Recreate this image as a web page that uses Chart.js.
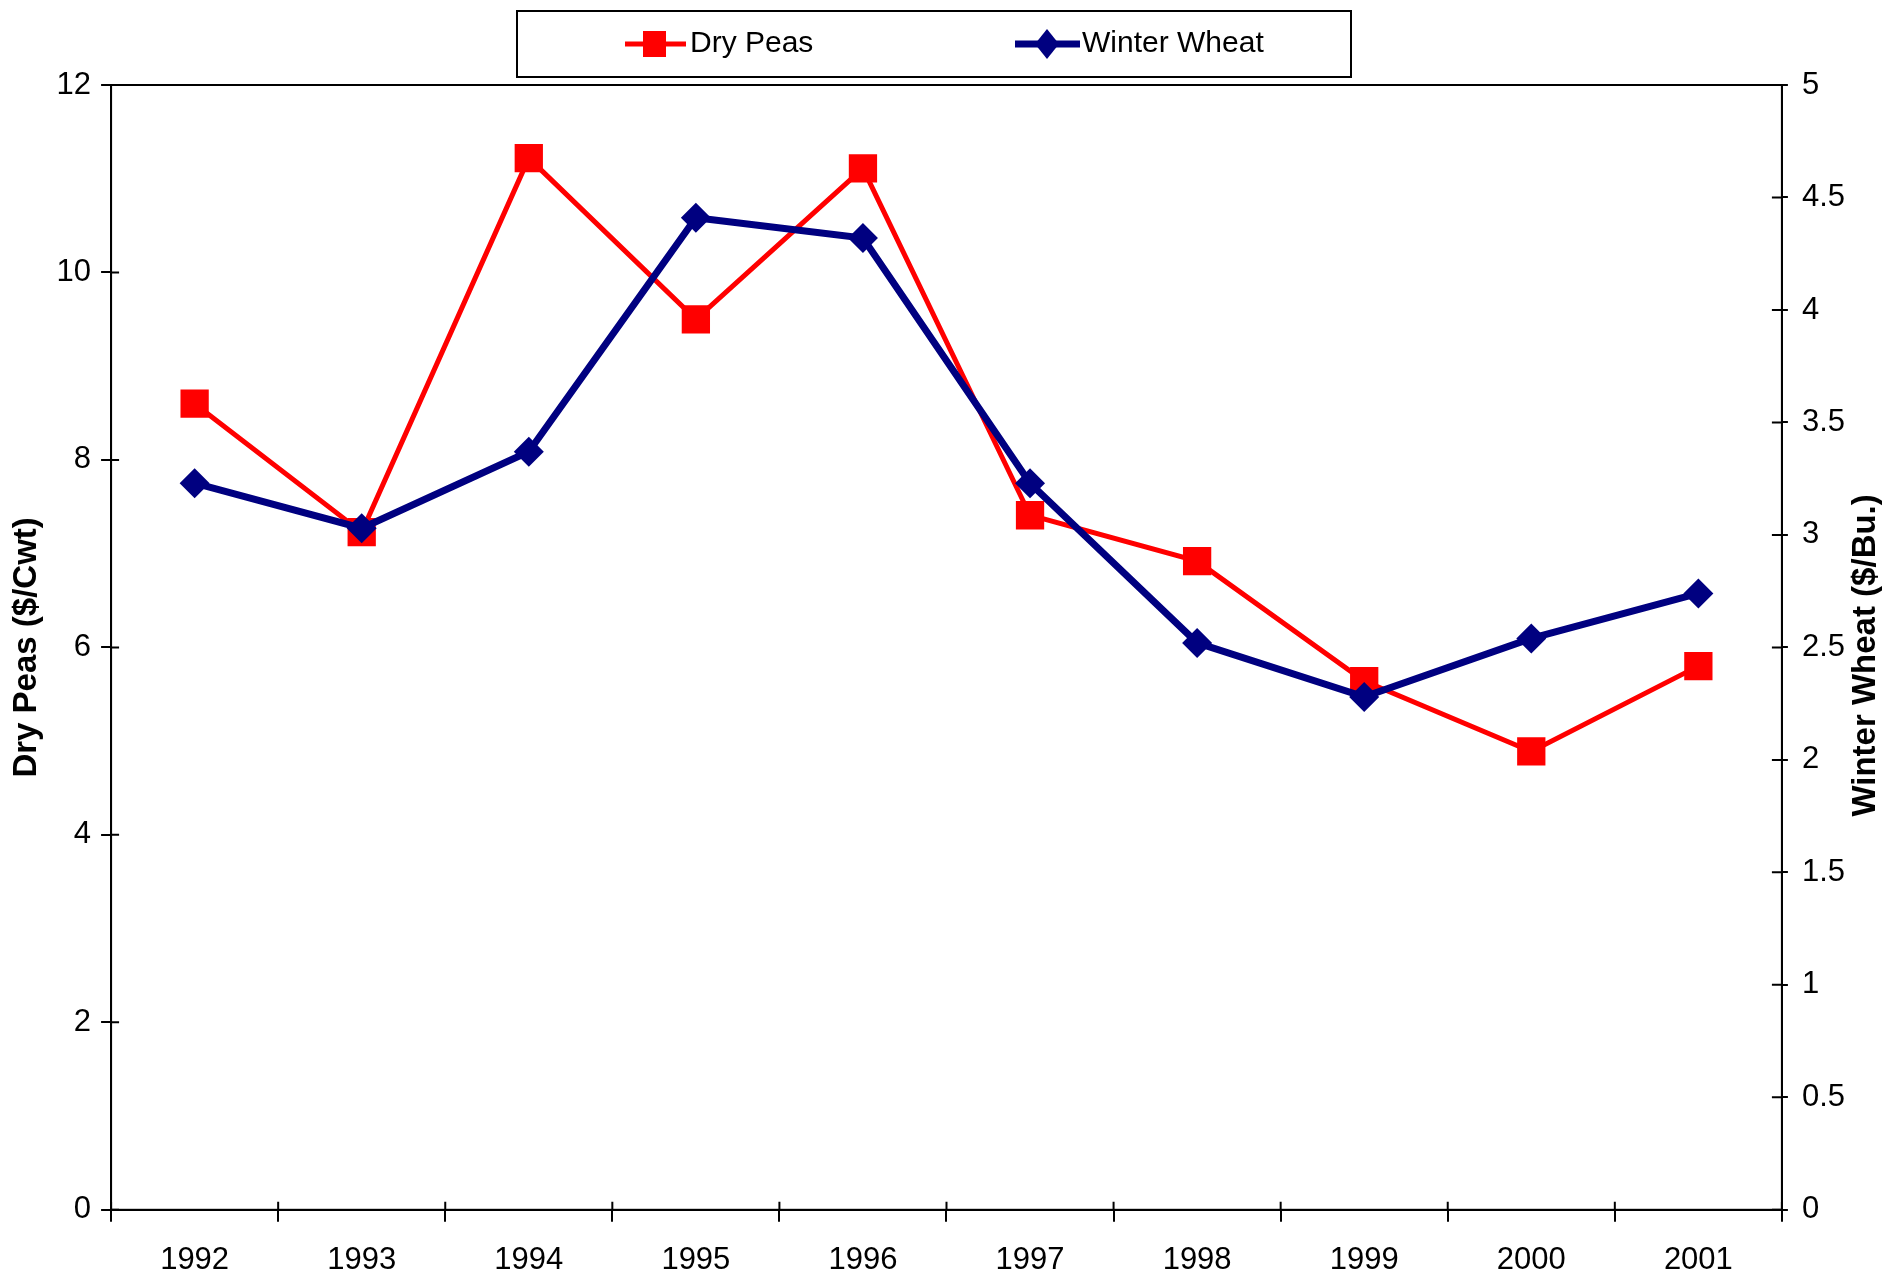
<!DOCTYPE html>
<html>
<head>
<meta charset="utf-8">
<script src="https://cdn.jsdelivr.net/npm/chart.js@4/dist/chart.umd.min.js"></script>
<style>
  html, body { margin: 0; padding: 0; background: #fff; }
  #grafico { display: block; }
</style>
</head>
<body>
<canvas id="grafico" width="1882" height="1276"></canvas>
<script>
const years = ["1992", "1993", "1994", "1995", "1996", "1997", "1998", "1999", "2000", "2001"];
const dryPeas = [8.6, 7.23, 11.22, 9.5, 11.11, 7.41, 6.92, 5.64, 4.89, 5.8];
const winterWheat = [3.23, 3.03, 3.37, 4.41, 4.32, 3.23, 2.52, 2.28, 2.54, 2.74];
const peasTicks = [0, 2, 4, 6, 8, 10, 12];
const wheatTicks = [0, 0.5, 1, 1.5, 2, 2.5, 3, 3.5, 4, 4.5, 5];

const RED = "#FF0000";
const NAVY = "#000080";
const tickFont = { family: "'Liberation Sans Narrow', 'Liberation Sans', Arial, sans-serif", size: 31 };

// caja del area de trazado, marcas internas, leyenda y titulo derecho
const extras = {
  id: "extras",
  afterDraw(chart) {
    const ctx = chart.ctx;
    const a = chart.chartArea;
    const xs = chart.scales.x;
    const yl = chart.scales.y;
    const yr = chart.scales.y1;
    ctx.save();
    ctx.strokeStyle = "#000";
    ctx.lineWidth = 2;
    ctx.strokeRect(a.left, a.top, a.right - a.left, a.bottom - a.top);

    ctx.beginPath();
    for (let i = 0; i <= years.length; i++) {
      let px;
      if (i === 0) px = a.left;
      else if (i === years.length) px = a.right;
      else px = (xs.getPixelForValue(i - 1) + xs.getPixelForValue(i)) / 2;
      ctx.moveTo(px, a.bottom);
      ctx.lineTo(px, a.bottom - 8);
    }
    peasTicks.forEach((v) => {
      const py = yl.getPixelForValue(v);
      ctx.moveTo(a.left, py);
      ctx.lineTo(a.left + 8, py);
    });
    wheatTicks.forEach((v) => {
      const py = yr.getPixelForValue(v);
      ctx.moveTo(a.right, py);
      ctx.lineTo(a.right - 10, py);
    });
    ctx.stroke();

    // leyenda
    ctx.strokeRect(517, 11, 834, 66);
    const ly = 44;
    ctx.lineWidth = 5;
    ctx.strokeStyle = RED;
    ctx.beginPath();
    ctx.moveTo(625, ly);
    ctx.lineTo(686, ly);
    ctx.stroke();
    ctx.fillStyle = RED;
    ctx.fillRect(643, ly - 13, 23, 26);

    ctx.lineWidth = 7;
    ctx.strokeStyle = NAVY;
    ctx.beginPath();
    ctx.moveTo(1015, ly);
    ctx.lineTo(1080, ly);
    ctx.stroke();
    ctx.fillStyle = NAVY;
    ctx.beginPath();
    ctx.moveTo(1047, ly - 15);
    ctx.lineTo(1059, ly);
    ctx.lineTo(1047, ly + 15);
    ctx.lineTo(1035, ly);
    ctx.closePath();
    ctx.fill();

    ctx.fillStyle = "#000";
    ctx.font = "30px 'Liberation Sans Narrow', 'Liberation Sans', Arial, sans-serif";
    ctx.textAlign = "left";
    ctx.textBaseline = "middle";
    ctx.fillText("Dry Peas", 690, ly);
    ctx.fillText("Winter Wheat", 1082, ly);

    // titulo del eje derecho, de abajo hacia arriba
    ctx.translate(1866, (a.top + a.bottom) / 2 + 8);
    ctx.rotate(-Math.PI / 2);
    ctx.font = "bold 33px 'Liberation Sans', Arial, sans-serif";
    ctx.textAlign = "center";
    ctx.fillText("Winter Wheat ($/Bu.)", 0, 0);
    ctx.restore();
  },
};

new Chart(document.querySelector("#grafico"), {
  type: "line",
  data: {
    labels: years,
    datasets: [
      {
        label: "Dry Peas",
        data: dryPeas,
        yAxisID: "y",
        borderColor: RED,
        backgroundColor: RED,
        borderWidth: 5,
        pointStyle: "rect",
        pointRadius: 20,
        pointBorderWidth: 0,
        tension: 0,
        order: 1,
      },
      {
        label: "Winter Wheat",
        data: winterWheat,
        yAxisID: "y1",
        borderColor: NAVY,
        backgroundColor: NAVY,
        borderWidth: 7,
        pointStyle: "rectRot",
        pointRadius: 15,
        pointBorderWidth: 0,
        tension: 0,
        order: 0,
      },
    ],
  },
  options: {
    responsive: false,
    animation: false,
    layout: { padding: { top: 85, right: 23, bottom: -23, left: 0 } },
    plugins: {
      legend: { display: false },
      tooltip: { enabled: false },
    },
    scales: {
      x: {
        type: "category",
        offset: true,
        grid: { offset: true, drawOnChartArea: false, color: "#000", lineWidth: 2, tickLength: 12 },
        border: { color: "#000", width: 2 },
        ticks: { color: "#000", font: tickFont, padding: 20, maxRotation: 0 },
      },
      y: {
        position: "left",
        min: 0,
        max: 12,
        ticks: { stepSize: 2, color: "#000", font: tickFont, padding: 10 },
        grid: { drawOnChartArea: false, color: "#000", lineWidth: 2, tickLength: 10 },
        border: { color: "#000", width: 2 },
        title: {
          display: true,
          text: "Dry Peas ($/Cwt)",
          color: "#000",
          font: { family: "'Liberation Sans', Arial, sans-serif", size: 33, weight: "bold" },
          padding: { top: 7, bottom: 0 },
        },
      },
      y1: {
        position: "right",
        min: 0,
        max: 5,
        ticks: {
          stepSize: 0.5,
          color: "#000",
          font: tickFont,
          padding: 14,
          callback: (v) => String(v),
        },
        grid: { drawOnChartArea: false, color: "#000", lineWidth: 2, tickLength: 6 },
        border: { color: "#000", width: 2 },
      },
    },
  },
  plugins: [extras],
});
</script>
</body>
</html>
